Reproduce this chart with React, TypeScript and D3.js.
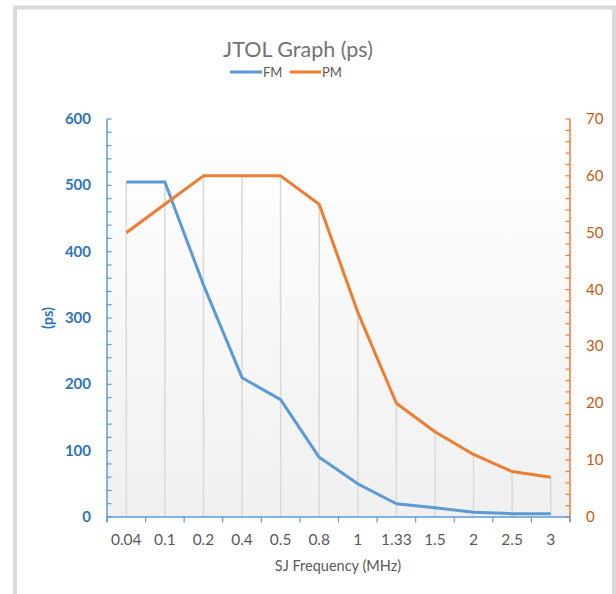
import React from "react";
import * as d3 from "d3";

const categories = ["0.04", "0.1", "0.2", "0.4", "0.5", "0.8", "1", "1.33", "1.5", "2", "2.5", "3"];
const fmValues = [505, 505, 350, 210, 177, 90, 50, 20, 14, 7, 5, 5];
const pmValues = [50, 55, 60, 60, 60, 55, 36, 20, 15, 11, 8, 7];
const leftTicks = [0, 100, 200, 300, 400, 500, 600];
const rightTicks = [0, 10, 20, 30, 40, 50, 60, 70];

const W = 616;
const H = 594;
const L = 107;
const R = 570;
const T = 119;
const B = 517;
const FM_C = "#5b9bd5";
const PM_C = "#ed7d31";
const FONT = "Lato, 'Open Sans', sans-serif";

export default function App() {
  const x = d3.scaleBand<string>().domain(categories).range([L, R]).padding(0);
  const yL = d3.scaleLinear().domain([0, 600]).range([B, T]);
  const yR = d3.scaleLinear().domain([0, 70]).range([B, T]);
  const cx = (c: string) => (x(c) as number) + x.bandwidth() / 2;

  const fmLine = d3.line<number>().x((_, i) => cx(categories[i])).y((d) => yL(d))(fmValues) as string;
  const pmLine = d3.line<number>().x((_, i) => cx(categories[i])).y((d) => yR(d))(pmValues) as string;

  const leftMinor = d3.range(0, 601, 20);
  const rightMinor = d3.range(0, 71, 2);
  const bounds = d3.range(0, categories.length + 1).map((i) => L + i * x.bandwidth());

  return (
    <svg width={W} height={H} style={{ position: "absolute", left: 0, top: 0 }} fontFamily={FONT}>
      <defs>
        <linearGradient id="bg" x1="0" y1="0" x2="0" y2="1">
          <stop offset="0" stopColor="#ffffff" />
          <stop offset="1" stopColor="#f0f0f0" />
        </linearGradient>
      </defs>
      <rect x={0} y={0} width={W} height={H} fill="#ffffff" />
      <rect x={15} y={7.5} width={599} height={640} fill="#ffffff" stroke="#dadada" strokeWidth={4} />
      <rect x={L} y={T} width={R - L} height={B - T} fill="url(#bg)" />

      {/* drop lines */}
      {categories.map((c, i) => (
        <line key={c} x1={cx(c)} x2={cx(c)} y1={Math.min(yL(fmValues[i]), yR(pmValues[i]))} y2={B}
          stroke="#d9d9d9" strokeWidth={1.5} />
      ))}

      {/* title */}
      <text x={298} y={57} textAnchor="middle" fontSize={21.5} fill="#737373">JTOL Graph (ps)</text>
      {/* legend */}
      <line x1={230} x2={262} y1={72} y2={72} stroke={FM_C} strokeWidth={3} />
      <text x={263} y={77} fontSize={13} fill="#595959">FM</text>
      <line x1={290} x2={321} y1={72} y2={72} stroke={PM_C} strokeWidth={3} />
      <text x={322} y={77} fontSize={13} fill="#595959">PM</text>

      {/* left axis */}
      <line x1={L} x2={L} y1={T} y2={B + 5} stroke={FM_C} strokeWidth={1.5} />
      {leftMinor.map((v) => (
        <line key={v} x1={L} x2={L + 4.5} y1={yL(v)} y2={yL(v)} stroke={FM_C} strokeWidth={1.2} />
      ))}
      {leftTicks.map((v) => (
        <text key={v} x={91} y={yL(v) + 5} textAnchor="end" fontSize={15} fontWeight="bold" fill="#2e75b6">{v}</text>
      ))}
      <text transform={`translate(53,318) rotate(-90)`} textAnchor="middle" fontSize={14.5} fontWeight="bold" fill="#2e75b6">(ps)</text>

      {/* right axis */}
      <line x1={R} x2={R} y1={T} y2={B + 5} stroke={PM_C} strokeWidth={1.5} />
      {rightMinor.map((v) => (
        <line key={v} x1={R - 4.5} x2={R} y1={yR(v)} y2={yR(v)} stroke={PM_C} strokeWidth={1.2} />
      ))}
      {rightTicks.map((v) => (
        <text key={v} x={586} y={yR(v) + 5} textAnchor="start" fontSize={15} fill="#c55a11">{v}</text>
      ))}

      {/* x axis */}
      <line x1={L} x2={R} y1={B} y2={B} stroke={FM_C} strokeWidth={1.5} />
      {bounds.map((b, i) => (
        <line key={i} x1={b} x2={b} y1={B} y2={B + 5.5} stroke={FM_C} strokeWidth={1.2} />
      ))}
      {categories.map((c) => (
        <text key={c} x={cx(c)} y={545} textAnchor="middle" fontSize={15.5} fill="#595959">{c}</text>
      ))}
      <text x={338} y={571} textAnchor="middle" fontSize={14.5} fill="#595959">SJ Frequency (MHz)</text>

      {/* series */}
      <path d={fmLine} fill="none" stroke={FM_C} strokeWidth={3} strokeLinejoin="round" />
      <path d={pmLine} fill="none" stroke={PM_C} strokeWidth={3} strokeLinejoin="round" />
    </svg>
  );
}
